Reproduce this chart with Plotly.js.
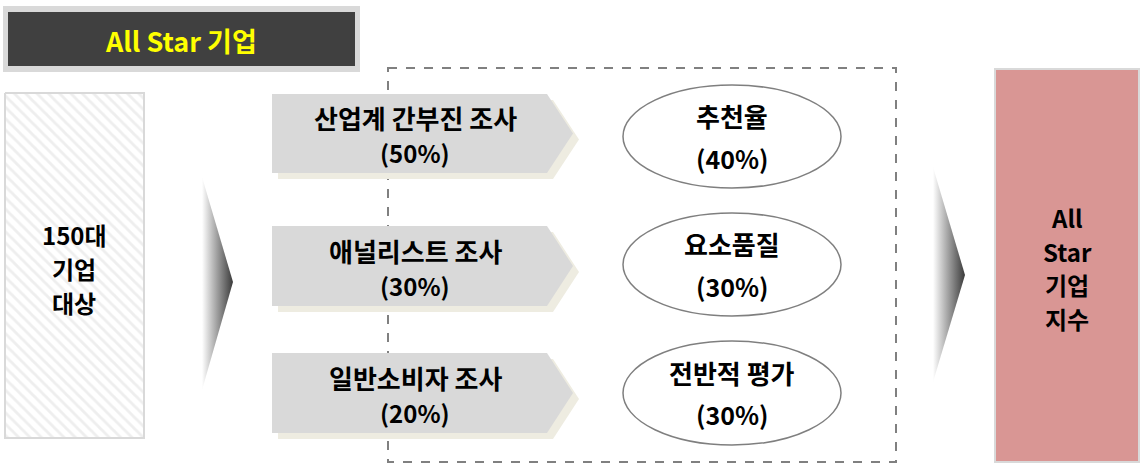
<!DOCTYPE html>
<html>
<head>
<meta charset="utf-8">
<script src="https://cdn.plot.ly/plotly-3.0.1.min.js"></script>
<style>html,body{margin:0;padding:0;background:#fff;}#chart{width:1145px;height:469px;}</style>
</head>
<body>
<div id="chart"></div>
<script>
// ---- data ----
const headerLabel = 'All Star 기업';
const sourceLabel = ['150대', '기업', '대상'];
const resultLabel = ['All', 'Star', '기업', '지수'];
const surveys = ['산업계 간부진 조사', '애널리스트 조사', '일반소비자 조사'];
const surveyWeights = [50, 30, 20];
const criteria = ['추천율', '요소품질', '전반적 평가'];
const criteriaWeights = [40, 30, 30];

// ---- layout geometry (pixel-space axes) ----
const W = 1145, H = 469;
const FONT = '"Noto Sans CJK KR", "Noto Sans", sans-serif';
const pentTop = [94, 226, 353], pentBot = [173, 306, 433];
const ellTop = [85, 213, 341], ellBot = [188, 316, 445];
const pentL = 272, pentR = 547, pentTip = 573, shadow = 6;

const shapes = [];
const annotations = [];

// header
shapes.push({type:'rect', x0:3, x1:360, y0:6, y1:72, fillcolor:'#d9d9d9', line:{width:0}, layer:'below'});
shapes.push({type:'rect', x0:8, x1:355, y0:12, y1:66, fillcolor:'#404040', line:{width:0}, layer:'below'});
annotations.push({x:181, y:40, text:'<b>' + headerLabel + '</b>', showarrow:false,
  font:{family:FONT, size:27, color:'#ffff00'}, xanchor:'center', yanchor:'middle'});

// dashed frame
shapes.push({type:'rect', x0:388, x1:896, y0:68, y1:462, fillcolor:'rgba(0,0,0,0)',
  line:{color:'#808080', width:2, dash:'dash'}, layer:'below'});

// survey pentagons + criteria ellipses
function pent(t, b, dx, dy) {
  const m = (t + b) / 2;
  return `M${pentL+dx},${t+dy} L${pentR+dx},${t+dy} L${pentTip+dx},${m+dy} L${pentR+dx},${b+dy} L${pentL+dx},${b+dy} Z`;
}
surveys.forEach((s, i) => {
  shapes.push({type:'path', path:pent(pentTop[i], pentBot[i], shadow, shadow), fillcolor:'#eeece1', line:{width:0}, layer:'below'});
  shapes.push({type:'path', path:pent(pentTop[i], pentBot[i], 0, 0), fillcolor:'#d9d9d9', line:{width:0}, layer:'below'});
  const m = (pentTop[i] + pentBot[i]) / 2;
  annotations.push({x:415, y:m - 16, text:'<b>' + s + '</b>', showarrow:false,
    font:{family:FONT, size:26, color:'#000'}, xanchor:'center', yanchor:'middle'});
  annotations.push({x:415, y:m + 19, text:'<b>(' + surveyWeights[i] + '%)</b>', showarrow:false,
    font:{family:FONT, size:24, color:'#000'}, xanchor:'center', yanchor:'middle'});
});
criteria.forEach((c, i) => {
  shapes.push({type:'circle', x0:623, x1:841, y0:ellTop[i], y1:ellBot[i], fillcolor:'#ffffff',
    line:{color:'#7f7f7f', width:1.5}, layer:'below'});
  const m = (ellTop[i] + ellBot[i]) / 2;
  annotations.push({x:732, y:m - 21, text:'<b>' + c + '</b>', showarrow:false,
    font:{family:FONT, size:26, color:'#000'}, xanchor:'center', yanchor:'middle'});
  annotations.push({x:732, y:m + 21, text:'<b>(' + criteriaWeights[i] + '%)</b>', showarrow:false,
    font:{family:FONT, size:25, color:'#000'}, xanchor:'center', yanchor:'middle'});
});

// result box
shapes.push({type:'rect', x0:995, x1:1139, y0:69, y1:462, fillcolor:'#d99694',
  line:{color:'#d9d9d9', width:2}, layer:'below'});
resultLabel.forEach((t, i) => {
  annotations.push({x:1067, y:217.75 + i * 33.5, text:'<b>' + t + '</b>', showarrow:false,
    font:{family:FONT, size:24, color:'#000'}, xanchor:'center', yanchor:'middle'});
});

// source label
sourceLabel.forEach((t, i) => {
  annotations.push({x:74, y:234 + i * 34, text:'<b>' + t + '</b>', showarrow:false,
    font:{family:FONT, size:24, color:'#000'}, xanchor:'center', yanchor:'middle'});
});

// traces: hatched source box, gradient arrows
const traces = [
  {x:[5,144,144,5,5], y:[93,93,438,438,93], type:'scatter', mode:'lines', fill:'toself',
   fillcolor:'#ffffff', fillpattern:{shape:'\\', fgcolor:'#eeeeee', bgcolor:'#ffffff', size:8, solidity:0.35},
   line:{color:'#d9d9d9', width:2}, hoverinfo:'skip', showlegend:false},
  {x:[202,233,202,202], y:[177,282,390,177], type:'scatter', mode:'lines', fill:'toself',
   fillgradient:{type:'horizontal', colorscale:[[0,'#ffffff'],[1,'#3a3a3a']]},
   line:{width:0, color:'rgba(0,0,0,0)'}, hoverinfo:'skip', showlegend:false},
  {x:[933,965,933,933], y:[167,275,382,167], type:'scatter', mode:'lines', fill:'toself',
   fillgradient:{type:'horizontal', colorscale:[[0,'#ffffff'],[1,'#3a3a3a']]},
   line:{width:0, color:'rgba(0,0,0,0)'}, hoverinfo:'skip', showlegend:false}
];

const layout = {
  width:W, height:H, margin:{l:0, r:0, t:0, b:0},
  paper_bgcolor:'#ffffff', plot_bgcolor:'#ffffff',
  xaxis:{range:[0, W], visible:false, fixedrange:true},
  yaxis:{range:[H, 0], visible:false, fixedrange:true},
  shapes:shapes, annotations:annotations, showlegend:false
};
Plotly.newPlot('chart', traces, layout, {displayModeBar:false, staticPlot:true});
</script>
</body>
</html>
